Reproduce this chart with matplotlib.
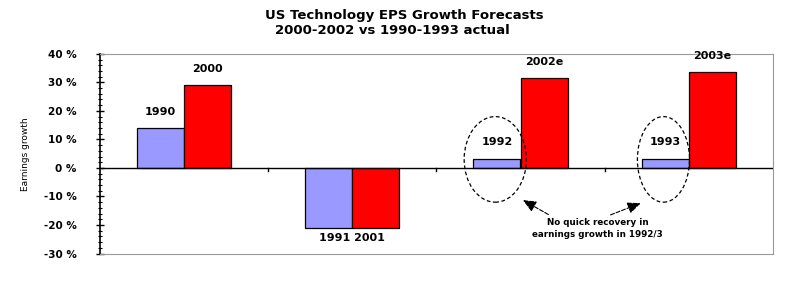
import matplotlib.pyplot as plt
import numpy as np
from matplotlib.patches import Ellipse

# data
actual_years = ['1990', '1991', '1992', '1993']
forecast_years = ['2000', '2001', '2002e', '2003e']
actual_growth = [14, -21, 3.3, 3.3]      # 1990s, blue
forecast_growth = [29, -21, 31.5, 33.5]  # 2000s, red
yticks = [-30, -20, -10, 0, 10, 20, 30, 40]

plt.rcParams['font.family'] = 'DejaVu Sans'
plt.rcParams['font.weight'] = 'bold'

fig = plt.figure(figsize=(8, 2.82), dpi=100)
ax = fig.add_axes([0.125, 0.101, 0.841, 0.708])

ind = np.arange(len(actual_years))
w = 0.28
p1 = ax.bar(ind - w / 2, actual_growth, w, color='#9999ff', edgecolor='black', linewidth=0.9)
p2 = ax.bar(ind + w / 2, forecast_growth, w, color='#ff0000', edgecolor='black', linewidth=0.9)

ax.set_xlim(-0.5, len(ind) - 0.5)
ax.set_ylim(-30, 40)
ax.axhline(0, color='black', linewidth=1.0)

# year labels on the bars
for i in ind:
    for bars, names in ((p1, actual_years), (p2, forecast_years)):
        if i == 1:
            continue
        r = bars[i]
        ax.annotate(names[i], (r.get_x() + r.get_width() / 2, r.get_height()),
                    xytext=(0, 8), textcoords='offset points',
                    ha='center', va='bottom', fontsize=8)
ax.annotate(actual_years[1] + ' ' + forecast_years[1], (ind[1], forecast_growth[1]),
            xytext=(0, -4), textcoords='offset points',
            ha='center', va='top', fontsize=8)

# small ticks on the zero line between groups
for b in ind[:-1] + 0.5:
    ax.plot([b, b], [0, -1.2], color='black', linewidth=1.0)

# dashed circles round 1992 and 1993
ax.add_patch(Ellipse((1.85, 3), 0.37, 30, fill=False, linestyle=(0, (3, 2)),
                     edgecolor='black', linewidth=0.9, zorder=5))
ax.add_patch(Ellipse((2.85, 3), 0.31, 30, fill=False, linestyle=(0, (3, 2)),
                     edgecolor='black', linewidth=0.9, zorder=5))

ax.text(2.46, -17.5, 'No quick recovery in\nearnings growth in 1992/3', ha='center', va='top',
        fontsize=6.3, linespacing=1.5)
ax.annotate('', xy=(2.0, -10.8), xytext=(2.18, -16.8),
            arrowprops=dict(arrowstyle='-|>,head_length=0.8,head_width=0.35', linestyle='--',
                            color='black', linewidth=0.8))
ax.annotate('', xy=(2.73, -12), xytext=(2.52, -16.8),
            arrowprops=dict(arrowstyle='-|>,head_length=0.8,head_width=0.35', linestyle='--',
                            color='black', linewidth=0.8))

ax.set_xticks([])
ax.set_yticks(yticks)
ax.set_yticklabels([f'{v} %' for v in yticks], fontsize=7.5)
ax.set_yticks(np.arange(-30, 41, 2), minor=True)
ax.tick_params(axis='y', which='major', direction='inout', length=6, width=1, pad=14)
ax.tick_params(axis='y', which='minor', direction='inout', length=3, width=0.8)
ax.set_ylabel('Earnings growth', fontsize=6.5, labelpad=10)

for s in ('top', 'right', 'bottom'):
    ax.spines[s].set_color('#999999')
ax.spines['left'].set_color('black')
ax.spines['left'].set_linewidth(1.2)

fig.text(0.505, 0.945, 'US Technology EPS Growth Forecasts', ha='center', va='center', fontsize=9.5)
fig.text(0.49, 0.893, '2000-2002 vs 1990-1993 actual', ha='center', va='center', fontsize=9.5)

fig.savefig('out.png', dpi=100)
